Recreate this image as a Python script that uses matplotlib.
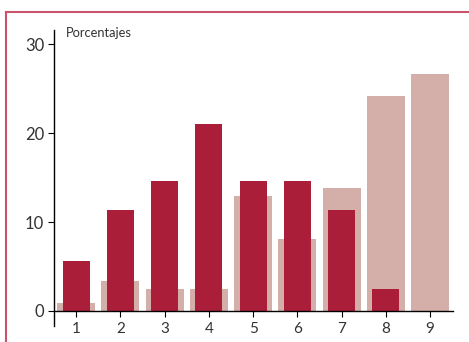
import matplotlib.pyplot as plt
from matplotlib.lines import Line2D
import numpy as np

# categories on the x axis
categories = [1, 2, 3, 4, 5, 6, 7, 8, 9]
# light (background) series and dark (foreground) series, in percent
light_values = [0.9, 3.4, 2.5, 2.5, 12.9, 8.1, 13.8, 24.2, 26.7]
dark_values = [5.6, 11.3, 14.6, 21.0, 14.6, 14.6, 11.3, 2.5, 0]
y_ticks = [0, 10, 20, 30]

light_color = "#d4aea8"
dark_color = "#aa1e3a"

plt.rcParams["font.family"] = ["Lato", "DejaVu Sans"]

fig = plt.figure(figsize=(4.69, 3.42), dpi=100)
ax = fig.add_axes([54 / 469, 16 / 342, (453 - 54) / 469, (326 - 30) / 342])

ax.bar(categories, light_values, width=0.86, color=light_color, zorder=1)
ax.bar(categories, dark_values, width=0.61, color=dark_color, zorder=2)

ax.set_xlim(0.5, 9.52)
ax.set_ylim(-1.7, 31.6)

ax.spines["top"].set_visible(False)
ax.spines["right"].set_visible(False)
ax.spines["bottom"].set_position(("data", 0))
ax.spines["left"].set_linewidth(1.0)
ax.spines["bottom"].set_linewidth(1.0)

ax.set_xticks(categories)
ax.set_xticklabels([str(c) for c in categories], fontsize=11, color="#333333")
ax.set_yticks(y_ticks)
ax.set_yticklabels([str(t) for t in y_ticks], fontsize=12, color="#333333")
ax.tick_params(axis="x", length=4, width=0.8, pad=4)
ax.tick_params(axis="y", length=4, width=0.8, pad=3)

ax.text(0.03, 1.01, "Porcentajes", transform=ax.transAxes, fontsize=9.3,
        color="#333333", va="top", ha="left")

# thin red frame along the top and left edge of the figure
frame_color = "#c9536c"
fig.add_artist(Line2D([6 / 469, 1.0], [1 - 12 / 342, 1 - 12 / 342],
                      color=frame_color, lw=1.5, transform=fig.transFigure))
fig.add_artist(Line2D([6 / 469, 6 / 469], [0, 1 - 12 / 342],
                      color=frame_color, lw=1.5, transform=fig.transFigure))

fig.savefig("out.png", dpi=100)
